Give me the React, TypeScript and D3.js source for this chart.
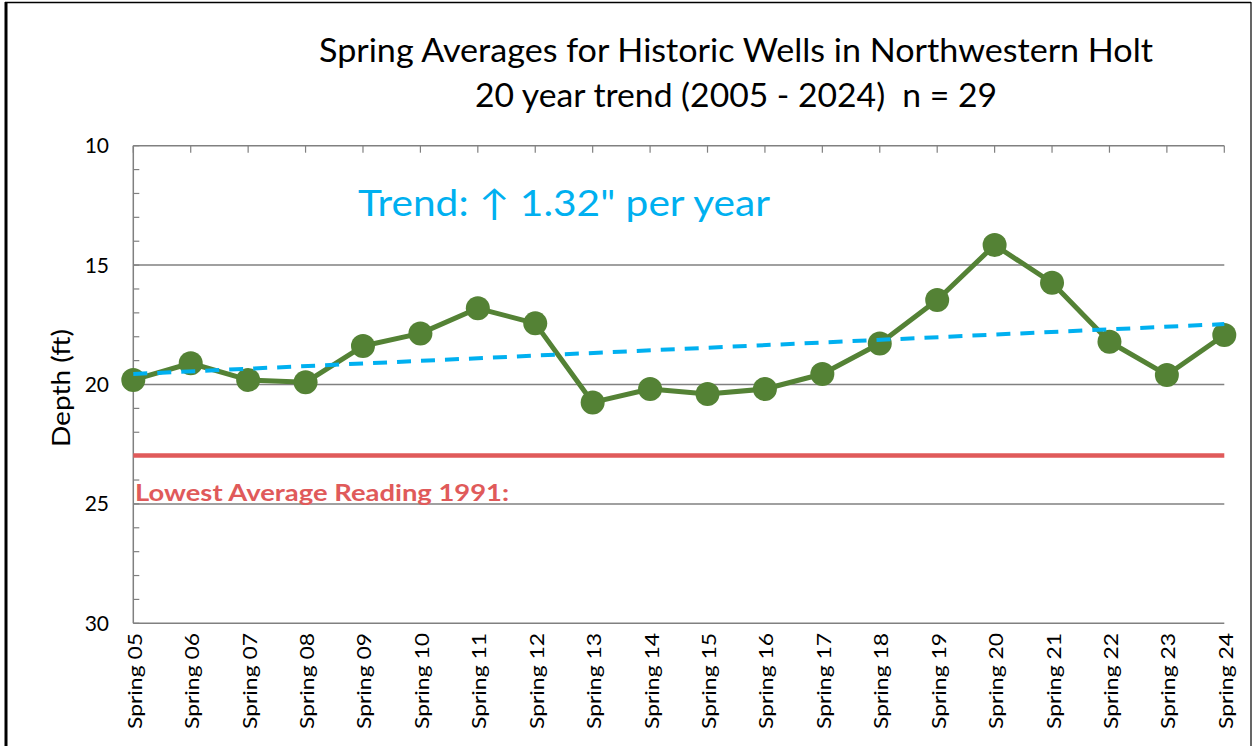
import React from "react";
import * as d3 from "d3";

const categories = [
  "Spring 05", "Spring 06", "Spring 07", "Spring 08", "Spring 09",
  "Spring 10", "Spring 11", "Spring 12", "Spring 13", "Spring 14",
  "Spring 15", "Spring 16", "Spring 17", "Spring 18", "Spring 19",
  "Spring 20", "Spring 21", "Spring 22", "Spring 23", "Spring 24",
];
const depths = [
  19.81, 19.11, 19.81, 19.91, 18.39,
  17.86, 16.81, 17.44, 20.75, 20.19,
  20.4, 20.19, 19.56, 18.28, 16.46,
  14.16, 15.74, 18.21, 19.6, 17.93,
];
const trendEnds = [19.56, 17.47];
const lowestReading = 22.97;
const majorTicks = [10, 15, 20, 25, 30];
const minorTicks = d3.range(10, 31, 1);

const titleLines = [
  "Spring Averages for Historic Wells in Northwestern Holt",
  "20 year trend (2005 - 2024)  n = 29",
];
const trendLabel = "Trend: \u2191 1.32\" per year";
const lowestLabel = "Lowest Average Reading 1991:";
const yTitle = "Depth (ft)";

const FONT = "Lato, 'Open Sans', sans-serif";
const GREEN = "#548235";
const BLUE = "#00B0F0";
const RED = "#E05A5A";
const GRID = "#808080";

export default function App() {
  const left = 133.3;
  const right = 1224.3;
  const top = 145.7;
  const bottom = 623.3;

  const x = d3.scalePoint<string>().domain(categories).range([left, right]);
  const y = d3.scaleLinear().domain([10, 30]).range([top, bottom]);

  const line = d3
    .line<number>()
    .x((_, i) => x(categories[i]) as number)
    .y((d) => y(d));

  const trendX = [x(categories[0]) as number, x(categories[categories.length - 1]) as number];

  return (
    <svg
      width={1254}
      height={746}
      style={{ position: "absolute", left: 0, top: 0, background: "#fff" }}
      fontFamily={FONT}
    >
      <rect x={0} y={0} width={1254} height={746} fill="#fff" />
      {/* outer frame */}
      <line x1={6} y1={2} x2={6} y2={746} stroke="#000" strokeWidth={3} />
      <line x1={5} y1={2.5} x2={1251} y2={2.5} stroke="#000" strokeWidth={1.5} />
      <line x1={1251} y1={2} x2={1251} y2={746} stroke="#000" strokeWidth={1.2} />

      {/* title */}
      <text x={736} y={62} textAnchor="middle" fontSize={33} fill="#000" textLength={834} lengthAdjust="spacingAndGlyphs">
        {titleLines[0]}
      </text>
      <text
        x={736}
        y={107}
        textAnchor="middle"
        fontSize={33}
        fill="#000"
        textLength={522}
        lengthAdjust="spacingAndGlyphs"
        style={{ whiteSpace: "pre" }}
      >
        {titleLines[1]}
      </text>

      {/* gridlines */}
      {majorTicks.map((t) => (
        <line key={"g" + t} x1={left} x2={right} y1={y(t)} y2={y(t)} stroke={GRID} strokeWidth={1.5} />
      ))}
      {/* left axis */}
      <line x1={left} x2={left} y1={top} y2={bottom} stroke={GRID} strokeWidth={1.5} />
      {minorTicks.map((t) => (
        <line key={"m" + t} x1={left} x2={left + 6} y1={y(t)} y2={y(t)} stroke={GRID} strokeWidth={1.2} />
      ))}
      {/* top axis ticks */}
      {categories.map((c) => (
        <line key={"t" + c} x1={x(c)} x2={x(c)} y1={top} y2={top + 7} stroke={GRID} strokeWidth={1.2} />
      ))}

      {/* y tick labels */}
      {majorTicks.map((t) => (
        <text key={"yl" + t} x={109} y={y(t)} dy="0.36em" textAnchor="end" fontSize={21} fill="#000">
          {t}
        </text>
      ))}
      <text
        transform={`translate(70, 388) rotate(-90)`}
        textAnchor="middle"
        fontSize={25}
        fill="#000"
        textLength={118}
        lengthAdjust="spacingAndGlyphs"
      >
        {yTitle}
      </text>

      {/* x tick labels */}
      {categories.map((c) => (
        <text
          key={"xl" + c}
          transform={`translate(${(x(c) as number) + 1}, 633) rotate(-90)`}
          textAnchor="end"
          dominantBaseline="central"
          fontSize={19}
          fill="#000"
          textLength={96}
          lengthAdjust="spacingAndGlyphs"
        >
          {c}
        </text>
      ))}

      {/* trend label */}
      <text x={358} y={216} fontSize={36} fill={BLUE} textLength={412} lengthAdjust="spacingAndGlyphs">
        {trendLabel}
      </text>

      {/* lowest reading */}
      <line x1={left} x2={right} y1={y(lowestReading)} y2={y(lowestReading)} stroke={RED} strokeWidth={4.5} />
      <text x={135} y={501} fontSize={23} fontWeight="bold" fill={RED} textLength={374} lengthAdjust="spacingAndGlyphs">
        {lowestLabel}
      </text>

      {/* data line */}
      <path d={line(depths) || ""} fill="none" stroke={GREEN} strokeWidth={5} strokeLinejoin="round" />
      {depths.map((d, i) => (
        <circle key={"p" + i} cx={x(categories[i])} cy={y(d)} r={12} fill={GREEN} />
      ))}

      {/* trend line */}
      <line
        x1={trendX[0]}
        x2={trendX[1]}
        y1={y(trendEnds[0])}
        y2={y(trendEnds[1])}
        stroke={BLUE}
        strokeWidth={4}
        strokeDasharray="14 10"
      />
    </svg>
  );
}
